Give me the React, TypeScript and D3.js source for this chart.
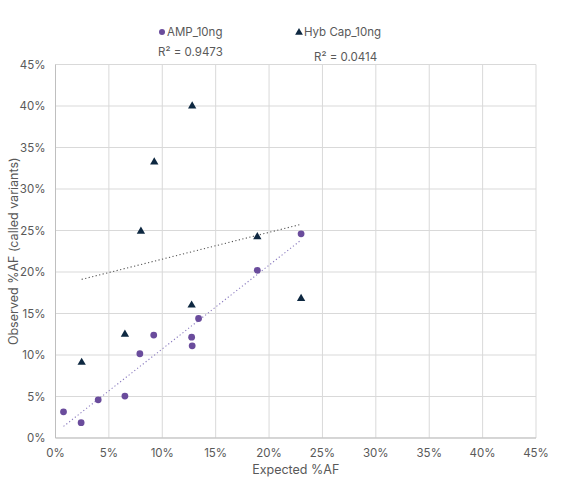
import * as d3 from "d3";

const ampExpected = [0.75, 2.4, 4.0, 6.5, 7.9, 9.2, 12.75, 12.8, 13.4, 18.9, 23.0];
const ampObserved = [3.15, 1.85, 4.6, 5.05, 10.15, 12.4, 12.15, 11.1, 14.4, 20.2, 24.6];

const hybExpected = [2.45, 6.5, 8.0, 9.25, 12.75, 12.8, 18.9, 23.0];
const hybObserved = [9.1, 12.5, 24.9, 33.25, 16.0, 40.0, 24.25, 16.8];

const seriesNames = ["AMP_10ng", "Hyb Cap_10ng"];
const rSquaredLabels = ["R² = 0.9473", "R² = 0.0414"];
const tickValues = [0, 5, 10, 15, 20, 25, 30, 35, 40, 45];

const FONT = "Inter, 'Noto Sans', sans-serif";
const TEXT = "#595959";

const fitLine = (xs: number[], ys: number[]) => {
  const mx = d3.mean(xs) || 0;
  const my = d3.mean(ys) || 0;
  const sxy = d3.sum(xs, (x, i) => (x - mx) * (ys[i] - my));
  const sxx = d3.sum(xs, (x) => (x - mx) ** 2);
  const slope = sxy / sxx;
  const icpt = my - slope * mx;
  const x0 = d3.min(xs) || 0;
  const x1 = d3.max(xs) || 0;
  return [
    [x0, icpt + slope * x0],
    [x1, icpt + slope * x1],
  ] as [number, number][];
};

export default function App() {
  const width = 561;
  const height = 489;
  const margin = { top: 64.5, right: 25, bottom: 51, left: 55.5 };

  const x = d3.scaleLinear().domain([0, 45]).range([margin.left, width - margin.right]);
  const y = d3.scaleLinear().domain([0, 45]).range([height - margin.bottom, margin.top]);

  const line = d3
    .line<[number, number]>()
    .x((d) => x(d[0]))
    .y((d) => y(d[1]));

  const triangle = d3.symbol().type(d3.symbolTriangle).size(30)();

  const ampFit = fitLine(ampExpected, ampObserved);
  const hybFit = fitLine(hybExpected, hybObserved);

  return (
    <svg
      width={width}
      height={height}
      style={{ position: "absolute", left: 0, top: 0, background: "#fff" }}
      fontFamily={FONT}
    >
      {/* Grid */}
      {tickValues.map((t) => (
        <line
          key={`gx-${t}`}
          x1={x(t)}
          x2={x(t)}
          y1={y(0)}
          y2={y(45)}
          stroke="#d9d9d9"
          strokeWidth={1}
        />
      ))}
      {tickValues.map((t) => (
        <line
          key={`gy-${t}`}
          x1={x(0)}
          x2={x(45)}
          y1={y(t)}
          y2={y(t)}
          stroke="#d9d9d9"
          strokeWidth={1}
        />
      ))}
      {/* Axis lines */}
      <line x1={x(0)} x2={x(45)} y1={y(0)} y2={y(0)} stroke="#bfbfbf" />
      <line x1={x(0)} x2={x(0)} y1={y(0)} y2={y(45)} stroke="#bfbfbf" />

      {/* Tick labels */}
      {tickValues.map((t) => (
        <text
          key={`ty-${t}`}
          x={x(0) - 10}
          y={y(t)}
          textAnchor="end"
          dominantBaseline="central"
          fontSize={11.5}
          fill={TEXT}
        >
          {t}%
        </text>
      ))}
      {tickValues.map((t) => (
        <text
          key={`tx-${t}`}
          x={x(t)}
          y={y(0) + 15}
          textAnchor="middle"
          dominantBaseline="central"
          fontSize={11.5}
          fill={TEXT}
        >
          {t}%
        </text>
      ))}

      {/* Axis titles */}
      <text
        x={(x(0) + x(45)) / 2}
        y={469}
        textAnchor="middle"
        dominantBaseline="central"
        fontSize={12.5}
        fill={TEXT}
      >
        Expected %AF
      </text>
      <text
        transform={`translate(13,${(y(0) + y(45)) / 2}) rotate(-90)`}
        textAnchor="middle"
        dominantBaseline="central"
        fontSize={12.5}
        fill={TEXT}
      >
        Observed %AF (called variants)
      </text>

      {/* Trendlines */}
      <path d={line(ampFit) || ""} fill="none" stroke="#8a7bbf" strokeWidth={1.1} strokeDasharray="1.2 2.4" />
      <path d={line(hybFit) || ""} fill="none" stroke="#555555" strokeWidth={1.1} strokeDasharray="1.2 2.4" />

      {/* Points */}
      {ampExpected.map((e, i) => (
        <circle key={`a-${i}`} cx={x(e)} cy={y(ampObserved[i])} r={3.4} fill="#6a4c9c" />
      ))}
      {hybExpected.map((e, i) => (
        <path
          key={`h-${i}`}
          d={triangle || ""}
          transform={`translate(${x(e)},${y(hybObserved[i])})`}
          fill="#0e2841"
        />
      ))}

      {/* Legend */}
      <circle cx={162} cy={32} r={3} fill="#6a4c9c" />
      <text x={167} y={32} dominantBaseline="central" fontSize={11.5} fill={TEXT}>
        {seriesNames[0]}
      </text>
      <path d={d3.symbol().type(d3.symbolTriangle).size(26)() || ""} transform="translate(299,32.5)" fill="#0e2841" />
      <text x={304} y={32} dominantBaseline="central" fontSize={11.5} fill={TEXT}>
        {seriesNames[1]}
      </text>

      {/* R² labels */}
      <text x={158} y={52} dominantBaseline="central" fontSize={11.5} fill={TEXT}>
        {rSquaredLabels[0]}
      </text>
      <text x={314} y={57} dominantBaseline="central" fontSize={11.5} fill={TEXT}>
        {rSquaredLabels[1]}
      </text>
    </svg>
  );
}
